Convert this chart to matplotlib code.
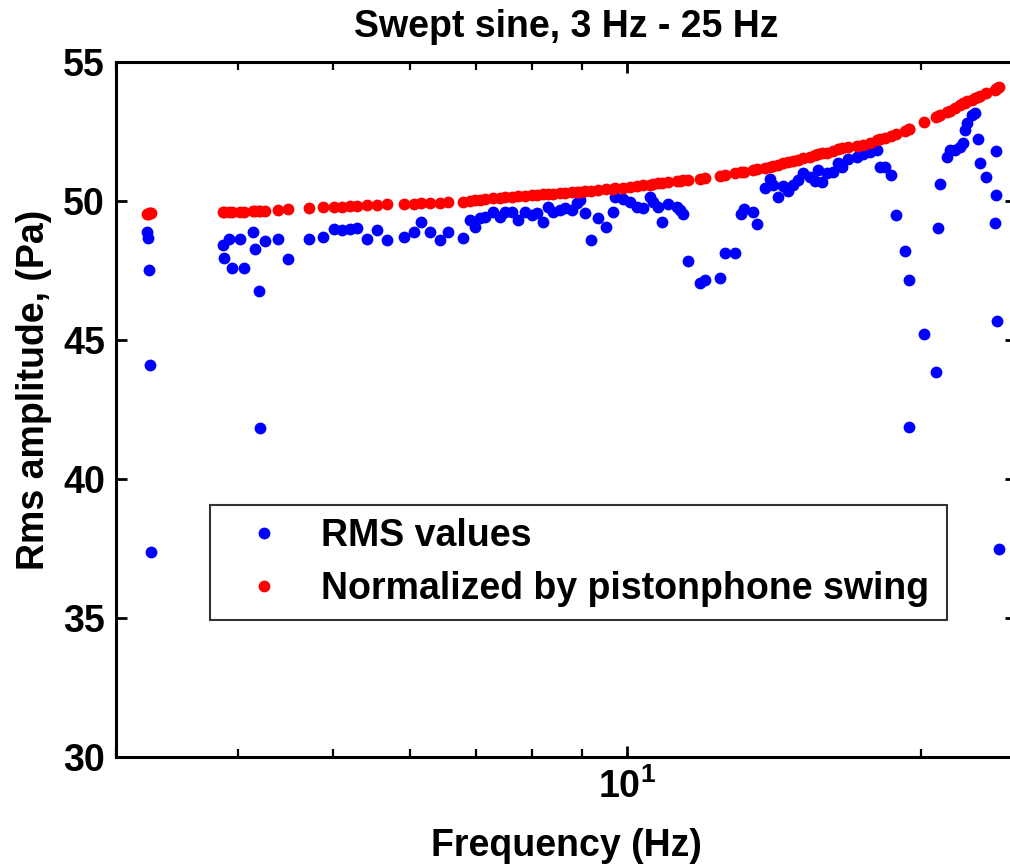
import matplotlib
matplotlib.use("Agg")
import matplotlib.pyplot as plt
from matplotlib.ticker import NullFormatter

# swept sine, 3 Hz - 25 Hz
freq = [3.230, 3.238, 3.245, 3.253, 3.260,
        3.863, 3.872, 3.918, 3.946, 4.021, 4.060, 4.146, 4.165, 4.205, 4.215, 4.265,
        4.397, 4.502, 4.730, 4.888, 5.017, 5.115, 5.209, 5.296, 5.422, 5.551, 5.683,
        5.915, 6.057, 6.156, 6.289, 6.439, 6.561, 6.797, 6.909, 6.992, 7.075, 7.158,
        7.294, 7.415, 7.503, 7.628, 7.736, 7.866, 7.996, 8.091, 8.206, 8.303, 8.401,
        8.541, 8.641, 8.786, 8.890, 8.953, 9.059, 9.187, 9.340, 9.518, 9.676, 9.721,
        9.906, 10.071, 10.238, 10.384, 10.557, 10.631, 10.757, 10.859, 11.014, 11.249,
        11.329, 11.409, 11.545, 11.875, 12.016, 12.448, 12.595, 12.895, 13.078, 13.171,
        13.453, 13.580, 13.838, 14.002, 14.101, 14.268, 14.437, 14.608, 14.781, 14.956,
        15.133, 15.385, 15.567, 15.677, 15.826, 16.013, 16.241, 16.433, 16.589, 16.825,
        17.185, 17.430, 17.720, 18.014, 18.142, 18.357, 18.618, 18.838, 19.242, 19.424,
        19.424, 20.122, 20.700, 20.798, 20.896, 21.243, 21.394, 21.647, 21.904, 22.059,
        22.163, 22.267, 22.531, 22.691, 22.852, 22.959, 23.286, 23.784, 23.840, 23.840,
        23.896, 24.010]

rms = [48.90, 48.66, 47.52, 44.10, 37.37,
       48.42, 47.96, 48.63, 47.58, 48.63, 47.60, 48.90, 48.27, 46.75, 41.85, 48.57,
       48.63, 47.90, 48.63, 48.72, 49.00, 48.96, 48.98, 49.02, 48.63, 48.96, 48.60,
       48.70, 48.88, 49.24, 48.90, 48.60, 48.90, 48.66, 49.32, 49.08, 49.38, 49.41,
       49.62, 49.44, 49.62, 49.62, 49.32, 49.62, 49.50, 49.56, 49.26, 49.80, 49.62,
       49.68, 49.74, 49.68, 49.92, 50.04, 49.56, 48.60, 49.38, 49.08, 49.62, 50.15,
       50.06, 49.97, 49.80, 49.74, 50.13, 49.97, 49.77, 49.23, 49.89, 49.77,
       49.68, 49.53, 47.84, 47.06, 47.16, 47.22, 48.12, 48.12, 49.53, 49.70,
       49.62, 49.17, 50.46, 50.78, 50.58, 50.15, 50.54, 50.36, 50.58, 50.76,
       51.02, 50.87, 50.72, 51.11, 50.70, 51.00, 51.05, 51.36, 51.23, 51.50,
       51.59, 51.69, 51.77, 51.83, 51.21, 51.21, 50.94, 49.50, 48.20, 47.16,
       41.88, 45.20, 43.86, 49.02, 50.60, 51.59, 51.83, 51.83, 51.95, 52.08,
       52.55, 52.79, 53.09, 53.15, 52.23, 51.38, 50.88, 49.22, 50.20, 51.80,
       45.70, 37.50]

norm = [49.54, 49.55, 49.56, 49.56, 49.57,
        49.60, 49.60, 49.61, 49.61, 49.62, 49.62, 49.63, 49.63, 49.64, 49.64, 49.65,
        49.68, 49.70, 49.74, 49.77, 49.79, 49.80, 49.81, 49.82, 49.84, 49.86, 49.88,
        49.90, 49.91, 49.92, 49.93, 49.94, 49.95, 49.97, 50.00, 50.02, 50.04, 50.06,
        50.09, 50.11, 50.13, 50.15, 50.17, 50.19, 50.21, 50.22, 50.24, 50.25, 50.26,
        50.28, 50.29, 50.31, 50.33, 50.34, 50.36, 50.37, 50.40, 50.42, 50.44, 50.45,
        50.48, 50.51, 50.54, 50.57, 50.59, 50.61, 50.63, 50.64, 50.67, 50.71,
        50.72, 50.74, 50.76, 50.80, 50.82, 50.91, 50.94, 51.00, 51.04, 51.06,
        51.11, 51.14, 51.20, 51.24, 51.27, 51.31, 51.35, 51.39, 51.44, 51.49,
        51.54, 51.60, 51.65, 51.68, 51.71, 51.74, 51.80, 51.86, 51.89, 51.93,
        51.98, 52.01, 52.09, 52.18, 52.22, 52.28, 52.34, 52.40, 52.53, 52.59,
        52.59, 52.83, 53.02, 53.05, 53.08, 53.20, 53.25, 53.35, 53.45, 53.51,
        53.54, 53.58, 53.65, 53.70, 53.75, 53.78, 53.87, 54.01, 54.03, 54.03,
        54.05, 54.09]

yticks = [30, 35, 40, 45, 50, 55]

plt.rcParams['font.family'] = ['Liberation Sans', 'DejaVu Sans']
plt.rcParams['font.weight'] = 'bold'
plt.rcParams['mathtext.default'] = 'regular'

fig = plt.figure(figsize=(10.1, 8.67), dpi=100)
# right edge of the axes lies just outside the picture, as in the original
ax = fig.add_axes([116/1010, 110/867, 900/1010, 695/867])

ax.plot(freq, rms, 'o', color='blue', ms=8.5, mew=0, label='RMS values')
ax.plot(freq, norm, 'o', color='red', ms=8.5, mew=0,
        label='Normalized by pistonphone swing')

ax.set_xscale('log')
ax.set_xlim(3, 25)
ax.set_ylim(30, 55)
ax.set_yticks(yticks)
ax.xaxis.set_minor_formatter(NullFormatter())

for s in ax.spines.values():
    s.set_linewidth(2.2)
ax.tick_params(which='both', direction='in', top=True, right=True, labelsize=27)
ax.tick_params(which='major', length=8, width=2, pad=8)
ax.tick_params(which='minor', length=6, width=1.6)

ax.set_title('Swept sine, 3 Hz - 25 Hz', fontsize=27, fontweight='bold', pad=18)
ax.set_xlabel('Frequency (Hz)', fontsize=27, fontweight='bold', labelpad=16)
ax.set_ylabel('Rms amplitude, (Pa)', fontsize=27, fontweight='bold')
ax.yaxis.set_label_coords(-0.071, 0.528)

leg = ax.legend(loc='upper left', bbox_to_anchor=(0.1044, 0.2072, 0.8189, 0.1554),
                mode='expand', fontsize=27, numpoints=1, handlelength=2.2,
                handletextpad=0.4, borderpad=0.35, labelspacing=0.45,
                fancybox=False, framealpha=1, borderaxespad=0)
leg.get_frame().set_edgecolor('#333333')
leg.get_frame().set_linewidth(1.5)

fig.savefig('out.png', dpi=100)
